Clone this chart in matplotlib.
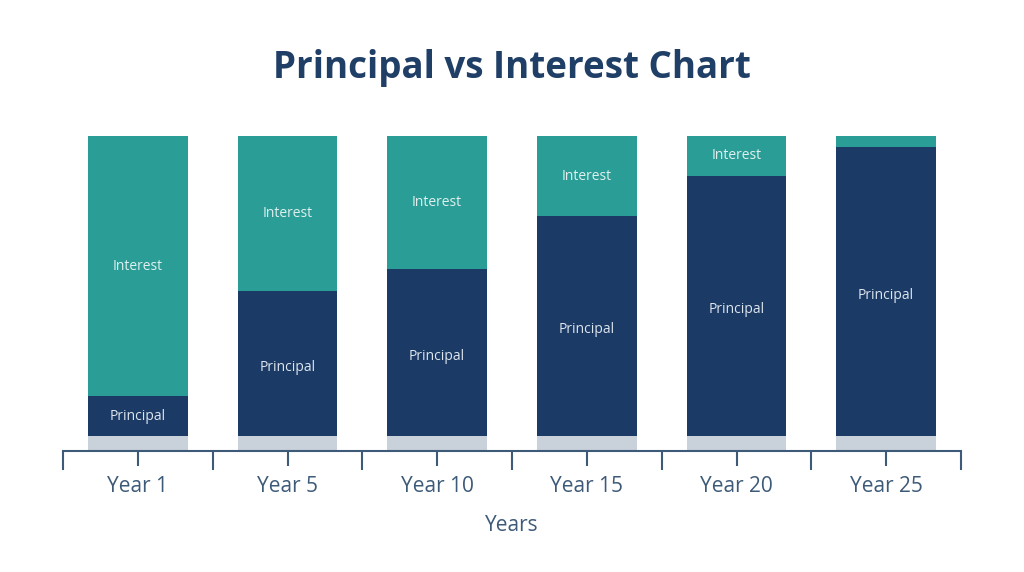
import matplotlib
matplotlib.use("Agg")
import matplotlib.pyplot as plt
import numpy as np

categories = ["Year 1", "Year 5", "Year 10", "Year 15", "Year 20", "Year 25"]
principal = [13.3, 48.3, 55.7, 73.3, 86.7, 96.3]
interest = [100 - p for p in principal]
show_interest_label = [True, True, True, True, True, False]

NAVY = "#1b3a65"
TEAL = "#2a9d96"
GRAY = "#c9d1da"
AXIS = "#3d5a78"
TITLE = "#1f3f66"
FONT = ["Open Sans", "DejaVu Sans"]

fig = plt.figure(figsize=(10.24, 5.72), dpi=100)
fig.patch.set_facecolor("white")
ax = fig.add_axes([63/1024, (572-451)/572, 898/1024, 315/572])
x = np.arange(len(categories))
w = 100/150
ax.bar(x, [5]*len(x), width=w, bottom=-5, color=GRAY, linewidth=0)
ax.bar(x, principal, width=w, color=NAVY, linewidth=0)
ax.bar(x, interest, width=w, bottom=principal, color=TEAL, linewidth=0)
for xi, p, it, s in zip(x, principal, interest, show_interest_label):
    off = 1.3 if p > 30 else 0.3
    ax.text(xi, p/2 - off, "Principal", ha="center", va="center", color="#dde5ee",
            fontsize=10, family=FONT)
    if s:
        ax.text(xi, p + it/2, "Interest", ha="center", va="center", color="#dff0ee",
                fontsize=10, family=FONT)
ax.set_xlim(-0.5, 5.5)
ax.set_ylim(-5, 100)
for sp in ["top", "right", "left"]:
    ax.spines[sp].set_visible(False)
ax.spines["bottom"].set_color(AXIS)
ax.spines["bottom"].set_linewidth(1.5)
ax.set_yticks([])
ax.set_xticks(np.arange(-0.5, 6, 1.0))
ax.set_xticklabels([])
ax.tick_params(axis="x", which="major", length=13.7, width=1.5, color=AXIS)
ax.set_xticks(x, minor=True)
ax.set_xticklabels(categories, minor=True, fontsize=15, color=AXIS, family=FONT)
ax.tick_params(axis="x", which="minor", length=10.8, width=1.5, color=AXIS, pad=7)
ax.set_xlabel("Years", fontsize=15, color=AXIS, family=FONT, labelpad=13.5)
fig.text(0.5, 1 - 68/572, "Principal vs Interest Chart", ha="center", va="center",
         fontsize=26.5, fontweight="bold", color=TITLE, family=FONT)
fig.savefig("out.png", dpi=100, facecolor="white")
